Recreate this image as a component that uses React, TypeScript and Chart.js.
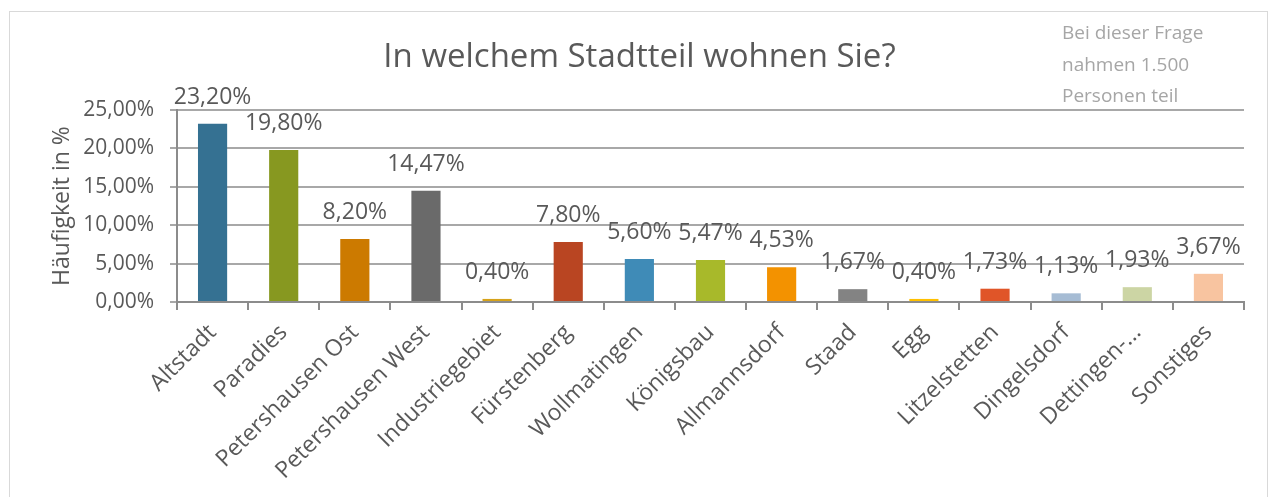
import React, { useEffect, useRef } from "react";
import { Chart, registerables } from "chart.js";

Chart.register(...registerables);

const categories = [
  "Altstadt",
  "Paradies",
  "Petershausen Ost",
  "Petershausen West",
  "Industriegebiet",
  "Fürstenberg",
  "Wollmatingen",
  "Königsbau",
  "Allmannsdorf",
  "Staad",
  "Egg",
  "Litzelstetten",
  "Dingelsdorf",
  "Dettingen-...",
  "Sonstiges",
];

const values = [23.2, 19.8, 8.2, 14.47, 0.4, 7.8, 5.6, 5.47, 4.53, 1.67, 0.4, 1.73, 1.13, 1.93, 3.67];

const barColors = [
  "#357192",
  "#879820",
  "#cc7a00",
  "#6a6a6a",
  "#d6a21a",
  "#b94522",
  "#3f8bb7",
  "#a8b92a",
  "#f39200",
  "#838383",
  "#ffc000",
  "#e05528",
  "#a6bcd4",
  "#ccd5a4",
  "#f8c4a0",
];

const yTicks = [0, 5, 10, 15, 20, 25];

const titleText = "In welchem Stadtteil wohnen Sie?";
const noteLines = ["Bei dieser Frage", "nahmen 1.500", "Personen teil"];
const yAxisTitle = "Häufigkeit in %";

const FONT = "'Open Sans', sans-serif";

const fmt = (v: number) => v.toFixed(2).replace(".", ",") + "%";

const decorPlugin = {
  id: "decor",
  afterDatasetsDraw(chart: any) {
    const ctx = chart.ctx;
    ctx.save();
    const meta = chart.getDatasetMeta(0);
    ctx.font = `23px ${FONT}`;
    ctx.fillStyle = "#595959";
    ctx.textAlign = "center";
    ctx.textBaseline = "alphabetic";
    meta.data.forEach((bar: any, i: number) => {
      ctx.fillText(fmt(values[i]), bar.x, bar.y - 20);
    });
    ctx.font = `33px ${FONT}`;
    ctx.fillText(titleText, 639.5, 67);
    ctx.font = `19px ${FONT}`;
    ctx.fillStyle = "#a6a6a6";
    ctx.textAlign = "left";
    noteLines.forEach((line, i) => {
      ctx.fillText(line, 1062, 39 + i * 31.5);
    });
    ctx.restore();
  },
};

export default function App() {
  const ref = useRef<HTMLCanvasElement | null>(null);

  useEffect(() => {
    document.body.style.margin = "0";
    const canvas = ref.current!;
    const chart = new Chart(canvas, {
      type: "bar",
      data: {
        labels: categories,
        datasets: [
          {
            data: values,
            backgroundColor: barColors,
            borderWidth: 0,
            barPercentage: 0.41,
            categoryPercentage: 1,
          },
        ],
      },
      options: {
        animation: false,
        responsive: false,
        maintainAspectRatio: false,
        devicePixelRatio: 1,
        layout: { padding: { left: 49, right: 29, top: 110, bottom: 0 } },
        plugins: {
          legend: { display: false },
          tooltip: { enabled: false },
          title: { display: false },
        },
        scales: {
          x: {
            grid: {
              drawOnChartArea: false,
              drawTicks: true,
              tickLength: 8,
              color: "#8c8c8c",
              lineWidth: 2,
              offset: true,
            },
            border: { display: true, color: "#8c8c8c", width: 2 },
            ticks: {
              color: "#595959",
              font: { family: FONT, size: 23 },
              maxRotation: 45,
              minRotation: 45,
              autoSkip: false,
              padding: 9,
            },
            afterFit: (s: any) => {
              s.height = 195;
            },
          },
          y: {
            min: 0,
            max: 25,
            afterBuildTicks: (s: any) => {
              s.ticks = yTicks.map((v) => ({ value: v }));
            },
            grid: {
              color: "#a8a8a8",
              lineWidth: 2,
              drawTicks: true,
              tickLength: 7,
            },
            border: { display: true, color: "#8c8c8c", width: 2 },
            ticks: {
              color: "#595959",
              font: { family: FONT, size: 21 },
              padding: 16,
              callback: (v: any) => fmt(Number(v)),
            },
            title: {
              display: true,
              text: yAxisTitle,
              color: "#595959",
              font: { family: FONT, size: 23 },
              padding: { top: 0, bottom: 0 },
            },
            afterFit: (s: any) => {
              s.width = 128;
            },
          },
        },
      },
      plugins: [decorPlugin],
    });
    return () => chart.destroy();
  }, []);

  return (
    <div style={{ position: "relative", width: 1273, height: 497, overflow: "hidden", background: "#fff" }}>
      <div
        style={{
          position: "absolute",
          left: 9,
          top: 11,
          width: 1259,
          height: 520,
          border: "1px solid #d9d9d9",
          boxSizing: "border-box",
        }}
      />
      <canvas ref={ref} width={1273} height={497} style={{ position: "absolute", left: 0, top: 0 }} />
    </div>
  );
}
